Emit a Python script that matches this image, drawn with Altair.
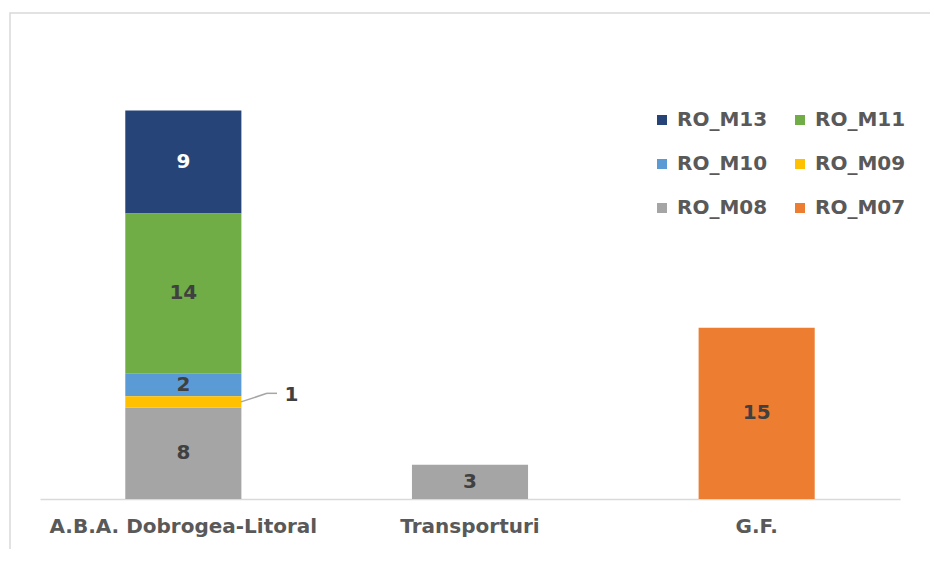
import altair as alt
import pandas as pd

categories = ["A.B.A. Dobrogea-Litoral", "Transporturi", "G.F."]
# legend order (filled column by column: 3 rows x 2 columns)
series = ["RO_M13", "RO_M10", "RO_M08", "RO_M11", "RO_M09", "RO_M07"]
colors = ["#264478", "#5B9BD5", "#A5A5A5", "#70AD47", "#FFC000", "#ED7D31"]
# values per series, in category order
RO_M13 = [9, 0, 0]
RO_M11 = [14, 0, 0]
RO_M10 = [2, 0, 0]
RO_M09 = [1, 0, 0]
RO_M08 = [8, 3, 0]
RO_M07 = [0, 0, 15]
values = {"RO_M13": RO_M13, "RO_M11": RO_M11, "RO_M10": RO_M10,
          "RO_M09": RO_M09, "RO_M08": RO_M08, "RO_M07": RO_M07}
stack_order = {"RO_M08": 0, "RO_M09": 1, "RO_M10": 2, "RO_M11": 3, "RO_M13": 4, "RO_M07": 5}

rows = []
for s in series:
    for c, v in zip(categories, values[s]):
        if v > 0:
            rows.append({"cat": c, "series": s, "value": v, "ord": stack_order[s]})
df = pd.DataFrame(rows)

FONT = "DejaVu Sans"
W, H = 860, 457

xscale = alt.Scale(paddingInner=0.595, paddingOuter=0.2975)
yscale = alt.Scale(domain=[0, 40], nice=False)

x_axis = alt.X("cat:N", sort=categories, scale=xscale, title=None,
               axis=alt.Axis(labelAngle=0, domainColor="#D9D9D9", domainWidth=1.5,
                             ticks=False, labelFont=FONT, labelFontWeight="bold",
                             labelFontSize=20, labelColor="#595959", labelPadding=17,
                             labelLimit=0))
x_plain = alt.X("cat:N", sort=categories, scale=xscale, title=None)

base = alt.Chart(df)

frame = alt.Chart(pd.DataFrame({"a": [0]})).mark_rect(
    fill=None, stroke="#D9D9D9", strokeWidth=1.5
).encode(x=alt.value(-30), x2=alt.value(1100), y=alt.value(-29), y2=alt.value(700))

bars = base.mark_bar().encode(
    x=x_axis,
    y=alt.Y("value:Q", stack="zero", scale=yscale, axis=None),
    color=alt.Color("series:N", scale=alt.Scale(domain=series, range=colors),
                    legend=alt.Legend(title=None, orient="none", legendX=612, legendY=68,
                                      columns=2, symbolType="square", symbolSize=100,
                                      symbolStrokeWidth=0, symbolOpacity=1,
                                      labelFont=FONT, labelFontWeight="bold",
                                      labelFontSize=20, labelColor="#595959",
                                      labelOffset=5, columnPadding=22, rowPadding=24)),
    order=alt.Order("ord:Q"),
)

stacked = base.transform_stack(
    stack="value", groupby=["cat"], sort=[alt.SortField("ord")], as_=["v0", "v1"]
).transform_calculate(mid="(datum.v0 + datum.v1) / 2", lead="(datum.v0 + datum.v1) / 2 + 0.75")

labels = stacked.transform_filter("datum.series != 'RO_M09'").mark_text(
    font=FONT, fontWeight="bold", fontSize=20
).encode(
    x=x_plain,
    y=alt.Y("mid:Q", scale=yscale, axis=None),
    text="value:Q",
    color=alt.condition("datum.series == 'RO_M13'", alt.value("#FFFFFF"), alt.value("#404040")),
)

small = stacked.transform_filter("datum.series == 'RO_M09'")
lead1 = small.mark_rule(color="#A6A6A6", strokeWidth=1.5).encode(
    x=alt.value(201), x2=alt.value(227),
    y=alt.Y("mid:Q", scale=yscale, axis=None), y2="lead:Q")
lead2 = small.mark_rule(color="#A6A6A6", strokeWidth=1.5).encode(
    x=alt.value(227), x2=alt.value(237),
    y=alt.Y("lead:Q", scale=yscale, axis=None))
small_label = small.mark_text(font=FONT, fontWeight="bold", fontSize=20, color="#404040",
                              dx=108, dy=-7).encode(
    x=x_plain, y=alt.Y("mid:Q", scale=yscale, axis=None), text="value:Q")

chart = alt.layer(frame, bars, labels, lead1, lead2, small_label).properties(
    width=W, height=H,
    padding={"left": 32, "top": 34, "right": 30, "bottom": 50},
    autosize=alt.AutoSizeParams(type="none"),
    background="#FFFFFF",
).configure_view(stroke=None)

chart.save("out.html", embed_options={"renderer": "svg", "actions": False})
